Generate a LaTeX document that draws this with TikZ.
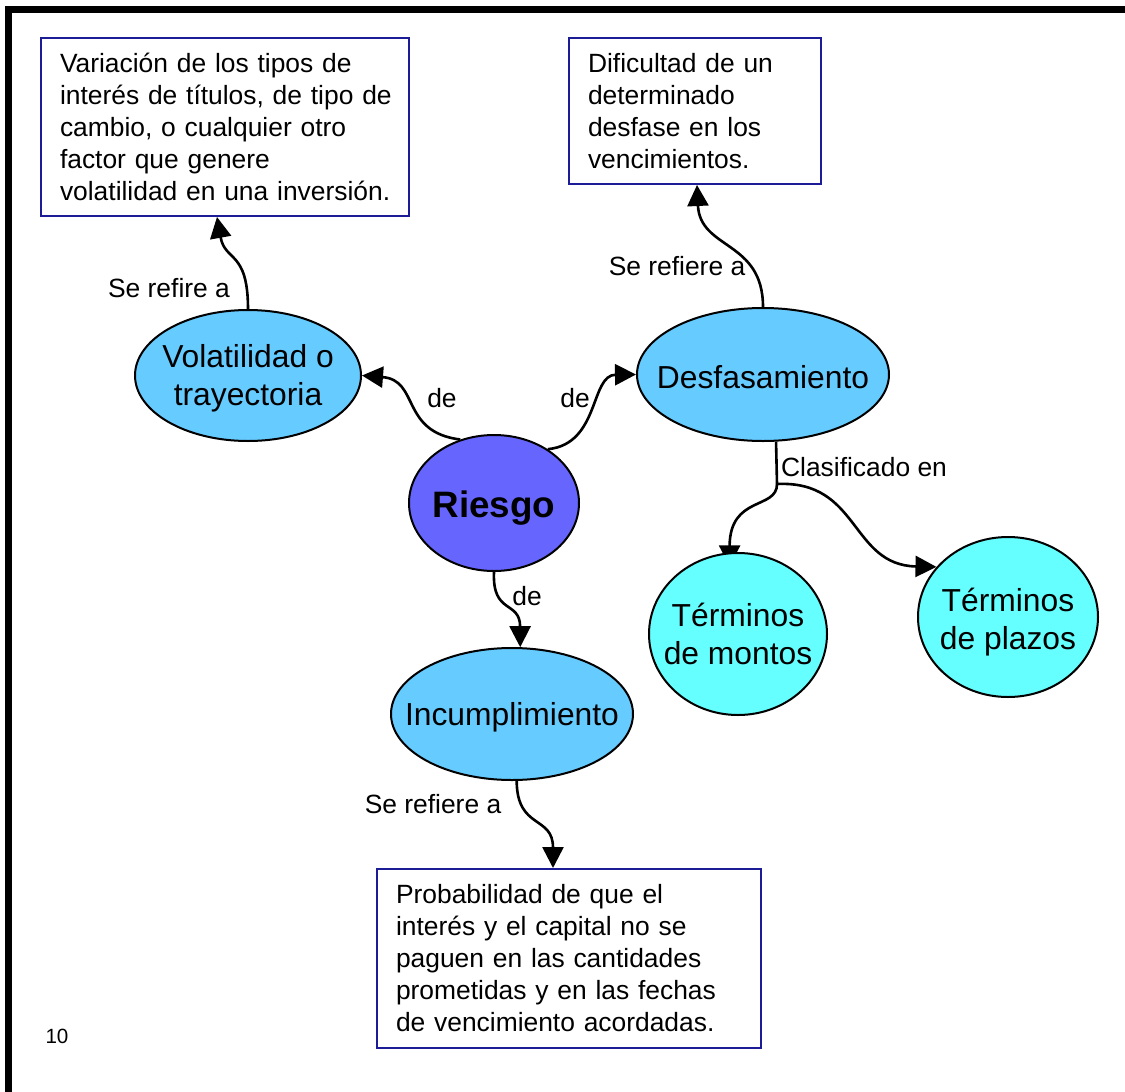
\documentclass[tikz,border=0pt]{standalone}
\usepackage{fontspec}
\setmainfont{Liberation Sans}
\usetikzlibrary{arrows.meta,shapes.geometric,calc}
\definecolor{boxblue}{RGB}{28,28,150}
\definecolor{skyfill}{RGB}{102,204,255}
\definecolor{corefill}{RGB}{102,102,255}
\definecolor{cyanfill}{RGB}{102,255,255}
\pgfdeclarelayer{lines}
\pgfsetlayers{lines,main}
\begin{document}
\begin{tikzpicture}[x=0.5pt,y=-0.5pt,
  defbox/.style={draw=boxblue, line width=1pt, fill=white, align=left,
    inner xsep=9.5pt, inner ysep=0pt, font=\fontsize{13.2}{16}\selectfont},
  concept/.style={ellipse, draw=black, line width=1pt, inner sep=0pt},
  ctext/.style={align=center, inner sep=0pt, yshift=-1.5pt, font=\fontsize{15.9}{19}\selectfont},
  link/.style={font=\fontsize{13.2}{16}\selectfont, inner sep=0pt},
  conn/.style={line width=1.3pt, -{Triangle[length=10.5pt,width=10.5pt]}},
  plain/.style={line width=1.3pt}]
\useasboundingbox (0,0) rectangle (1125,1092);

% page frame
\draw[line width=3.5pt, line join=miter] (8.5,1110) -- (8.5,9) -- (1140,9);

% definition boxes
\node[defbox, text width=165pt, minimum height=89pt] (b1) at (225,127)
  {\mbox{Variación de los tipos de}\\\mbox{interés de títulos, de tipo de}\\\mbox{cambio, o cualquier otro}\\\mbox{factor que genere}\\\mbox{volatilidad en una inversión.}};
\node[defbox, text width=107pt, minimum height=73pt] (b2) at (695,111)
  {\mbox{Dificultad de un}\\\mbox{determinado}\\\mbox{desfase en los}\\\mbox{vencimientos.}};
\node[defbox, text width=173pt, minimum height=89.5pt] (b3) at (569,958.5)
  {\mbox{Probabilidad de que el}\\\mbox{interés y el capital no se}\\\mbox{paguen en las cantidades}\\\mbox{prometidas y en las fechas}\\\mbox{de vencimiento acordadas.}};

% concepts
\node[concept, fill=skyfill, minimum width=113pt, minimum height=65.5pt,
  label={[ctext]center:Volatilidad o\\trayectoria}] (vol) at (248,375.5) {};
\node[concept, fill=skyfill, minimum width=126pt, minimum height=66.5pt,
  label={[ctext]center:Desfasamiento}] (des) at (763,374.5) {};
\node[concept, fill=corefill, minimum width=85pt, minimum height=68pt,
  label={[ctext, yshift=-1pt, font=\fontsize{18.4}{22}\selectfont\bfseries]center:Riesgo}] (r) at (494,503) {};
\node[concept, fill=skyfill, minimum width=121pt, minimum height=66pt,
  label={[ctext]center:Incumplimiento}] (inc) at (512,714) {};
\node[concept, fill=cyanfill, minimum width=89pt, minimum height=81pt,
  label={[ctext, yshift=1.5pt]center:Términos\\de montos}] (mon) at (738,634) {};
\node[concept, fill=cyanfill, minimum width=90pt, minimum height=80pt,
  label={[ctext, yshift=-1pt]center:Términos\\de plazos}] (pla) at (1008,617) {};

% linking phrases
\node[link] (l1) at (442,398) {de};
\node[link] (l2) at (575,398) {de};
\node[link] (l3) at (527,596) {de};
\node[link] (l4) at (169,288) {Se refire a};
\node[link] (l5) at (677,266) {Se refiere a};
\node[link] (l6) at (433,804) {Se refiere a};
\node[link] (l7) at (864,467) {Clasificado en};

% page number
\node[font=\fontsize{10.3}{12}\selectfont, inner sep=0pt] (pg) at (57,1036) {10};

\coordinate (cl) at (777,484);

% connectors, kept beneath the nodes
\begin{pgfonlayer}{lines}
\draw[conn] (r.118) .. controls (400,432) and (420,380) .. (vol.east);
\draw[conn] (r.45) .. controls (600,444) and (590,375) .. (des.west);
\draw[conn] (r.south) .. controls (492,615) and (520,600) .. (inc.83);
\draw[conn] (inc.-86) .. controls (517,830) and (553,815) .. ($(b3.north)+(-16,0)$);
\draw[conn] (vol.north) .. controls (248,250) and (225,262) .. ($(b1.south)+(-8,0)$);
\draw[conn] (des.north) .. controls (763,240) and (700,250) .. ($(b2.south)+(2,0)$);
\draw[plain] (des.-79) -- (cl);
\draw[conn] (cl) .. controls (777,510) and (730,495) .. ($(mon.96)+(0,14)$);
\draw[conn] (cl) .. controls (860,480) and (850,565) .. (pla.145);
\end{pgfonlayer}
\end{tikzpicture}
\end{document}
